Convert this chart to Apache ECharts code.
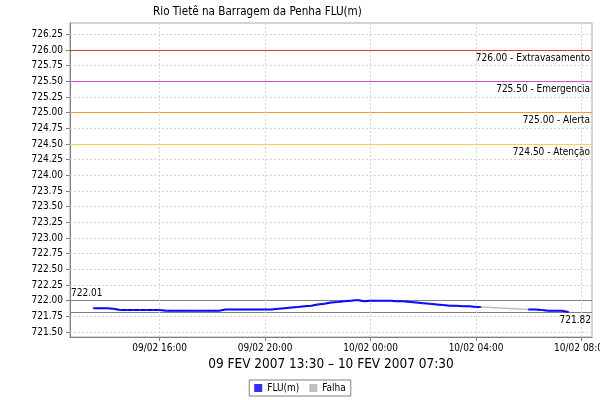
<!DOCTYPE html>
<html>
<head>
<meta charset="utf-8">
<script src="https://cdn.jsdelivr.net/npm/echarts@6/dist/echarts.min.js"></script>
<style>html,body{margin:0;padding:0;background:#fff}#c{width:600px;height:400px}</style>
</head>
<body>
<div id="c"></div>
<script>
// ---- data ----
const fluTimes1 = ['2007-02-09 13:30','2007-02-09 13:45','2007-02-09 14:00','2007-02-09 14:15','2007-02-09 14:30','2007-02-09 14:45','2007-02-09 15:00','2007-02-09 15:15','2007-02-09 15:30','2007-02-09 15:45','2007-02-09 16:00','2007-02-09 16:15','2007-02-09 16:30','2007-02-09 16:45','2007-02-09 17:00','2007-02-09 17:15','2007-02-09 17:30','2007-02-09 17:45','2007-02-09 18:00','2007-02-09 18:15','2007-02-09 18:30','2007-02-09 18:45','2007-02-09 19:00','2007-02-09 19:15','2007-02-09 19:30','2007-02-09 19:45','2007-02-09 20:00','2007-02-09 20:15','2007-02-09 20:30','2007-02-09 20:45','2007-02-09 21:00','2007-02-09 21:15','2007-02-09 21:30','2007-02-09 21:45','2007-02-09 22:00','2007-02-09 22:15','2007-02-09 22:30','2007-02-09 22:45','2007-02-09 23:00','2007-02-09 23:15','2007-02-09 23:30','2007-02-09 23:45','2007-02-10 00:00','2007-02-10 00:15','2007-02-10 00:30','2007-02-10 00:45','2007-02-10 01:00','2007-02-10 01:15','2007-02-10 01:30','2007-02-10 01:45','2007-02-10 02:00','2007-02-10 02:15','2007-02-10 02:30','2007-02-10 02:45','2007-02-10 03:00','2007-02-10 03:15','2007-02-10 03:30','2007-02-10 03:45','2007-02-10 04:00','2007-02-10 04:10'];
const fluValues1 = [721.88,721.88,721.88,721.87,721.85,721.85,721.85,721.85,721.85,721.85,721.85,721.84,721.84,721.84,721.84,721.84,721.84,721.84,721.84,721.84,721.86,721.86,721.86,721.86,721.86,721.86,721.86,721.86,721.87,721.88,721.89,721.90,721.91,721.92,721.94,721.95,721.97,721.98,721.99,722.00,722.01,721.99,722.00,722.00,722.00,722.00,721.99,721.99,721.98,721.97,721.96,721.95,721.94,721.93,721.92,721.92,721.91,721.91,721.90,721.90];
const fluTimes2 = ['2007-02-10 06:00','2007-02-10 06:15','2007-02-10 06:30','2007-02-10 06:45','2007-02-10 07:00','2007-02-10 07:15','2007-02-10 07:30'];
const fluValues2 = [721.86,721.86,721.85,721.84,721.84,721.84,721.82];
const falhaTimes = ['2007-02-10 04:10','2007-02-10 06:00'];
const falhaValues = [721.90,721.86];
const xMinTime = '2007-02-09 12:36';
const xMaxTime = '2007-02-10 08:24';
const xTickTimes = ['2007-02-09 16:00','2007-02-09 20:00','2007-02-10 00:00','2007-02-10 04:00','2007-02-10 08:00'];
const yTicks = [721.50,721.75,722.00,722.25,722.50,722.75,723.00,723.25,723.50,723.75,724.00,724.25,724.50,724.75,725.00,725.25,725.50,725.75,726.00,726.25];
const yMin = 721.42, yMax = 726.43;
const thresholdValues = [726.00,725.50,725.00,724.50];
const thresholdNames = ['Extravasamento','Emergencia','Alerta','Atenção'];
const thresholdColors = ['#e23b3b','#d94ad9','#ff952b','#f2d64a'];
const maxValue = 722.01, minValue = 721.82;
const titleText = 'Rio Tietê na Barragem da Penha FLU(m)';
const xAxisTitle = '09 FEV 2007 13:30 – 10 FEV 2007 07:30';
const seriesNames = ['FLU(m)','Falha'];

// ---- helpers ----
function ts(s){const m=s.match(/(\d+)-(\d+)-(\d+) (\d+):(\d+)/);return Date.UTC(+m[1],+m[2]-1,+m[3],+m[4],+m[5]);}
function p2(n){return (n<10?'0':'')+n;}
function fmt(v){const d=new Date(v);return p2(d.getUTCDate())+'/'+p2(d.getUTCMonth()+1)+' '+p2(d.getUTCHours())+':'+p2(d.getUTCMinutes());}

const fluData = fluTimes1.map((t,i)=>[ts(t),fluValues1[i]]).concat([[ts(fluTimes1[fluTimes1.length-1])+60000,null]]).concat(fluTimes2.map((t,i)=>[ts(t),fluValues2[i]]));
const falhaData = falhaTimes.map((t,i)=>[ts(t),falhaValues[i]]);
const FONT = "'DejaVu Sans Condensed','DejaVu Sans',sans-serif";

const markData = thresholdValues.map((v,i)=>({
  yAxis: v,
  lineStyle:{color:thresholdColors[i],type:'solid',width:1},
  label:{show:true,position:'insideEndBottom',distance:[2,3],formatter:v.toFixed(2)+' - '+thresholdNames[i],color:'#000',fontSize:10,fontFamily:FONT}
}));
markData.push({yAxis:maxValue,lineStyle:{color:'#808080',type:'solid',width:1},
  label:{show:true,position:'insideStartTop',distance:[1,2],formatter:maxValue.toFixed(2),color:'#000',fontSize:10,fontFamily:FONT}});
markData.push({yAxis:minValue,lineStyle:{color:'#808080',type:'solid',width:1},
  label:{show:true,position:'insideEndBottom',distance:[1,3],formatter:minValue.toFixed(2),color:'#000',fontSize:10,fontFamily:FONT}});

const gridLineStyle = {color:'#d4d4d4',type:[2,2],width:1};
const gridMarks = yTicks.filter(v=>thresholdValues.indexOf(v)<0 && Math.abs(v-maxValue)>0.02).map(v=>({yAxis:v}))
  .concat(xTickTimes.map(t=>({xAxis:ts(t)})));

const chart = echarts.init(document.getElementById('c'),null,{renderer:'canvas'});
chart.setOption({
  animation:false,
  backgroundColor:'#fff',
  textStyle:{fontFamily:FONT},
  title:{text:titleText,left:148,top:1,textStyle:{fontSize:11.6,fontWeight:'normal',color:'#000',fontFamily:FONT}},
  legend:{bottom:4,left:'center',data:seriesNames,icon:'rect',itemWidth:8,itemHeight:8,itemGap:10,
    borderColor:'#808080',borderWidth:1,padding:[3,5],textStyle:{fontSize:10,color:'#000',fontFamily:FONT}},
  grid:{left:70,right:8,top:23,bottom:63,show:true,borderColor:'#a8a8a8',borderWidth:1,backgroundColor:'#fff',
    containLabel:false,outerBoundsMode:'none'},
  xAxis:{type:'value',min:ts(xMinTime),max:ts(xMaxTime),
    name:xAxisTitle,nameLocation:'middle',nameGap:20,nameTextStyle:{fontSize:13.5,color:'#000',fontFamily:FONT},
    axisLine:{lineStyle:{color:'#808080'}},
    axisTick:{customValues:xTickTimes.map(ts),length:4,lineStyle:{color:'#808080'}},
    axisLabel:{customValues:xTickTimes.map(ts),formatter:fmt,fontSize:10,color:'#000',margin:6,hideOverlap:false,fontFamily:FONT},
    splitLine:{show:false}},
  yAxis:{type:'value',min:yMin,max:yMax,
    axisLine:{show:true,lineStyle:{color:'#808080'}},
    axisTick:{show:true,customValues:yTicks,length:4,lineStyle:{color:'#808080'}},
    axisLabel:{customValues:yTicks,formatter:v=>v.toFixed(2),fontSize:10,color:'#000',margin:7,fontFamily:FONT},
    splitLine:{show:false}},
  series:[
    {name:seriesNames[0],type:'line',data:fluData,connectNulls:false,color:'#0000ff',
     lineStyle:{color:'#0000ff',width:2},showSymbol:true,symbol:'circle',symbolSize:2,itemStyle:{color:'#3030ff'},z:5,
     markLine:{silent:true,symbol:'none',animation:false,data:markData}},
    {name:seriesNames[1],type:'line',data:falhaData,color:'#c0c0c0',lineStyle:{color:'#c0c0c0',width:1.5},showSymbol:false,z:4,
     markLine:{silent:true,symbol:'none',animation:false,label:{show:false},lineStyle:gridLineStyle,data:gridMarks}}
  ]
});
</script>
</body>
</html>
